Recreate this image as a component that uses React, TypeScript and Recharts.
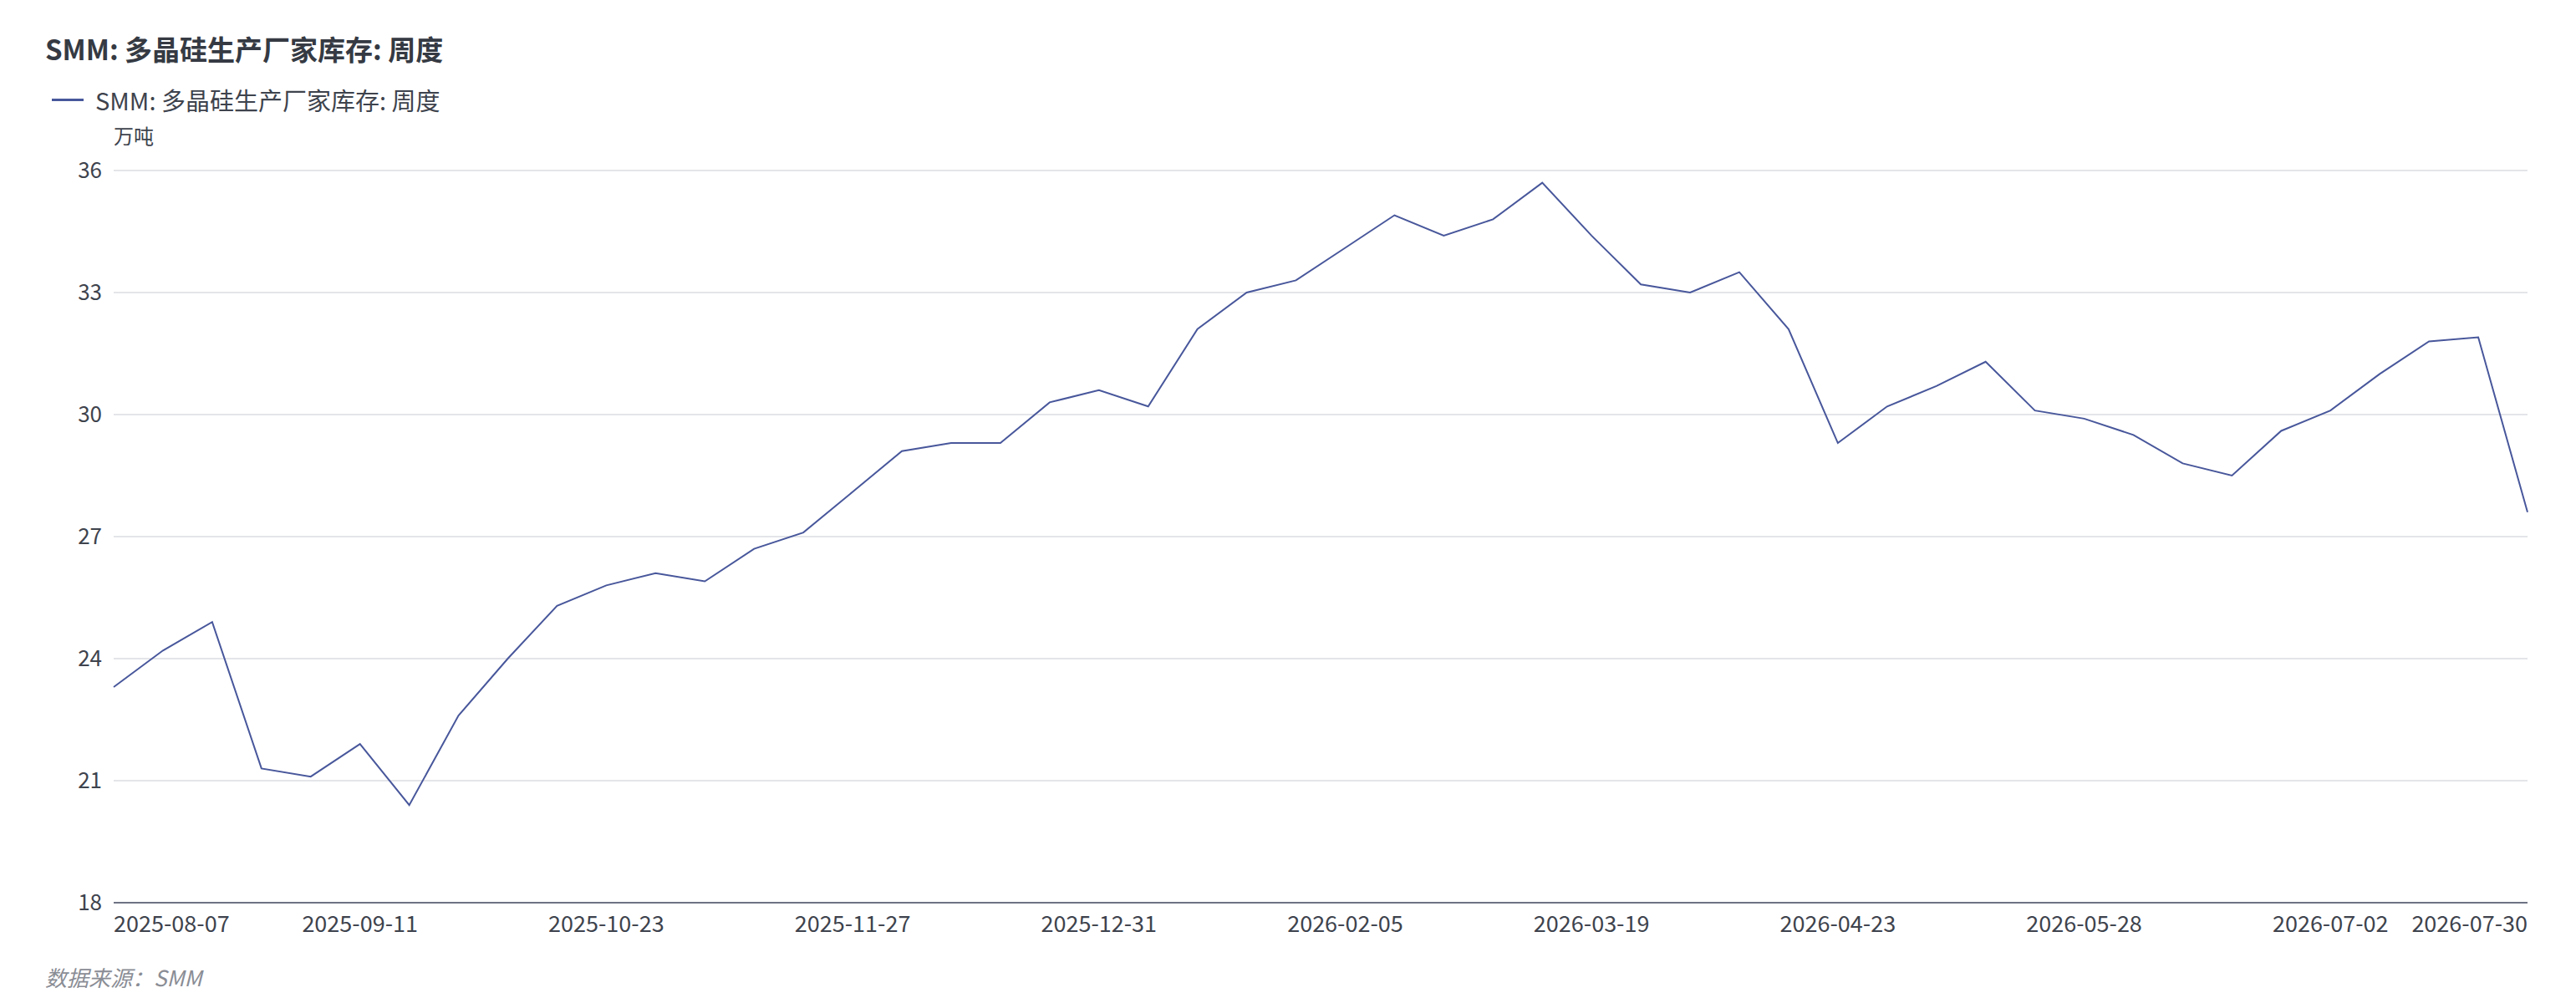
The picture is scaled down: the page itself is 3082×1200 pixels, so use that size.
import React from "react";
import { LineChart, Line, XAxis, YAxis, CartesianGrid } from "recharts";

const dates = [
  "2025-08-07", "2025-08-14", "2025-08-21", "2025-08-28", "2025-09-04",
  "2025-09-11", "2025-09-18", "2025-09-25", "2025-10-09", "2025-10-16",
  "2025-10-23", "2025-10-30", "2025-11-06", "2025-11-13", "2025-11-20",
  "2025-11-27", "2025-12-04", "2025-12-11", "2025-12-18", "2025-12-25",
  "2025-12-31", "2026-01-08", "2026-01-15", "2026-01-22", "2026-01-29",
  "2026-02-05", "2026-02-12", "2026-02-26", "2026-03-05", "2026-03-12",
  "2026-03-19", "2026-03-26", "2026-04-02", "2026-04-09", "2026-04-16",
  "2026-04-23", "2026-04-30", "2026-05-07", "2026-05-14", "2026-05-21",
  "2026-05-28", "2026-06-04", "2026-06-11", "2026-06-18", "2026-06-25",
  "2026-07-02", "2026-07-09", "2026-07-16", "2026-07-23", "2026-07-30",
];

const inventory = [
  23.3, 24.2, 24.9, 21.3, 21.1, 21.9, 20.4, 22.6, 24.0, 25.3,
  25.8, 26.1, 25.9, 26.7, 27.1, 28.1, 29.1, 29.3, 29.3, 30.3,
  30.6, 30.2, 32.1, 33.0, 33.3, 34.1, 34.9, 34.4, 34.8, 35.7,
  34.4, 33.2, 33.0, 33.5, 32.1, 29.3, 30.2, 30.7, 31.3, 30.1,
  29.9, 29.5, 28.8, 28.5, 29.6, 30.1, 31.0, 31.8, 31.9, 27.6,
];

const xTicks = [
  "2025-08-07", "2025-09-11", "2025-10-23", "2025-11-27", "2025-12-31",
  "2026-02-05", "2026-03-19", "2026-04-23", "2026-05-28", "2026-07-02",
  "2026-07-30",
];
const yTicks = [18, 21, 24, 27, 30, 33, 36];

const seriesName = "SMM: 多晶硅生产厂家库存: 周度";
const unit = "万吨";
const source = "数据来源：SMM";

const FONT = '"Noto Sans CJK SC", "Noto Sans", sans-serif';
const LINE_COLOR = "#48579b";
const TEXT_COLOR = "#3e434d";

const chartData = dates.map((d, i) => ({ date: d, value: inventory[i] }));

const DateTick = (props: any) => {
  const { x, y, payload } = props;
  const v = payload.value;
  const anchor = v === dates[0] ? "start" : v === dates[dates.length - 1] ? "end" : "middle";
  return (
    <text x={x} y={y} dy={35} textAnchor={anchor} fontSize={27} fontFamily={FONT} fill={TEXT_COLOR}>
      {v}
    </text>
  );
};

const App = () => {
  return (
    <div style={{ position: "absolute", left: 0, top: 0, width: 3082, height: 1200, background: "#fff", fontFamily: FONT }}>
      <div style={{ position: "absolute", left: 54, top: 42, fontSize: 33, lineHeight: 1, fontWeight: 700, color: "#353a43", whiteSpace: "nowrap" }}>
        {seriesName}
      </div>
      <div style={{ position: "absolute", left: 62, top: 118, width: 38, height: 3, background: LINE_COLOR }} />
      <div style={{ position: "absolute", left: 114, top: 105, fontSize: 29, lineHeight: 1, color: TEXT_COLOR, whiteSpace: "nowrap" }}>
        {seriesName}
      </div>
      <div style={{ position: "absolute", left: 136, top: 150, fontSize: 24, lineHeight: 1, color: TEXT_COLOR }}>
        {unit}
      </div>
      <LineChart
        width={3082}
        height={1200}
        data={chartData}
        margin={{ top: 204, right: 58, bottom: 80, left: 76 }}
      >
        <CartesianGrid vertical={false} stroke="#e4e5e9" strokeWidth={2} />
        <XAxis
          dataKey="date"
          ticks={xTicks}
          interval={0}
          tickLine={false}
          tickSize={0}
          tickMargin={0}
          height={40}
          axisLine={{ stroke: "#6e7383", strokeWidth: 2 }}
          tick={<DateTick />}
        />
        <YAxis
          domain={[18, 36]}
          ticks={yTicks}
          width={60}
          axisLine={false}
          tickLine={false}
          tickSize={0}
          tickMargin={14}
          tick={{ fontSize: 26, fontFamily: FONT, fill: TEXT_COLOR }}
        />
        <Line
          dataKey="value"
          name={seriesName}
          stroke={LINE_COLOR}
          strokeWidth={2}
          dot={false}
          isAnimationActive={false}
        />
      </LineChart>
      <div style={{ position: "absolute", left: 54, top: 1156, fontSize: 26, lineHeight: 1, fontStyle: "italic", color: "#8a8d95", whiteSpace: "nowrap" }}>
        {source}
      </div>
    </div>
  );
};

export default App;
